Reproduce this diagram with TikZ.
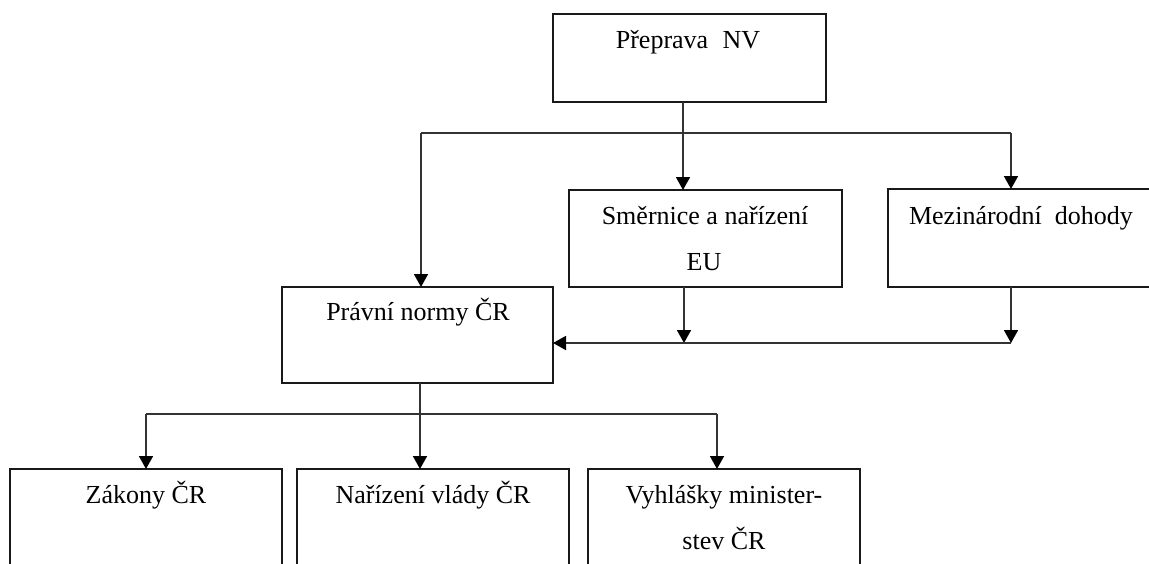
\documentclass[tikz,border=0pt]{standalone}
\usepackage{fontspec}
\setmainfont{Liberation Serif}
\usetikzlibrary{arrows.meta}
\tikzset{
  box/.style={draw=black!90, line width=1.8pt, fill=none},
  lbl/.style={anchor=base, inner sep=0pt, font=\fontsize{26}{30}\selectfont},
  conn/.style={draw=black!80, line width=1.7pt},
  arr/.style={conn, -{Triangle[length=13pt,width=14pt,color=black,fill=black]}}
}
\begin{document}
\begin{tikzpicture}[x=1pt,y=-1pt]
\useasboundingbox (0,0) rectangle (1149,563);
\clip (0,0) rectangle (1149,563);
\fill[white] (0,0) rectangle (1149,563);
% boxes
\draw[box] (553,14) rectangle (826,102);
\draw[box] (569,190) rectangle (842,287);
\draw[box] (888,189) rectangle (1170,287);
\draw[box] (282,287) rectangle (553,383);
\draw[box] (10,469) rectangle (282,600);
\draw[box] (297,469) rectangle (569,600);
\draw[box] (588,469) rectangle (860,600);
% named anchors
\coordinate (topB) at (683,102);
\coordinate (topJ) at (683,133);
\coordinate (jL) at (421,133);
\coordinate (jR) at (1011,133);
\coordinate (pravTop) at (421,287);
\coordinate (smerTop) at (683,190);
\coordinate (mezTop) at (1011,189);
\coordinate (smerBot) at (684,287);
\coordinate (smerJ) at (684,343);
\coordinate (mezBot) at (1011,287);
\coordinate (mezJ) at (1011,343);
\coordinate (pravRight) at (553,343);
\coordinate (pravBot) at (420,383);
\coordinate (pravJ) at (420,414);
\coordinate (bL) at (146,414);
\coordinate (bR) at (717,414);
\coordinate (zakTop) at (146,469);
\coordinate (narTop) at (420,469);
\coordinate (vyhTop) at (717,469);
% texts
\node[lbl] (t1) at (688,48) {Přeprava\hspace{0.3em} NV};
\node[lbl] (t2) at (705,224) {Směrnice a nařízení};
\node[lbl] (t2b) at (704,270) {EU};
\node[lbl] (t3) at (1021,224) {Mezinárodní\hspace{0.25em} dohody};
\node[lbl] (t4) at (418,320) {Právní normy ČR};
\node[lbl] (t5) at (146,503) {Zákony ČR};
\node[lbl] (t6) at (433,503) {Nařízení vlády ČR};
\node[lbl] (t7) at (724,503) {Vyhlášky minister-};
\node[lbl] (t7b) at (724,549) {stev ČR};
% connectors
\draw[conn] (topB) -- (topJ);
\draw[conn] (jL) -- (jR);
\draw[arr] (jL) -- (pravTop);
\draw[arr] (topJ) -- (smerTop);
\draw[arr] (jR) -- (mezTop);
\draw[arr] (smerBot) -- (smerJ);
\draw[arr] (mezBot) -- (mezJ);
\draw[arr] (mezJ) -- (pravRight);
\draw[conn] (pravBot) -- (pravJ);
\draw[conn] (bL) -- (bR);
\draw[arr] (bL) -- (zakTop);
\draw[arr] (pravJ) -- (narTop);
\draw[arr] (bR) -- (vyhTop);
\end{tikzpicture}
\end{document}
